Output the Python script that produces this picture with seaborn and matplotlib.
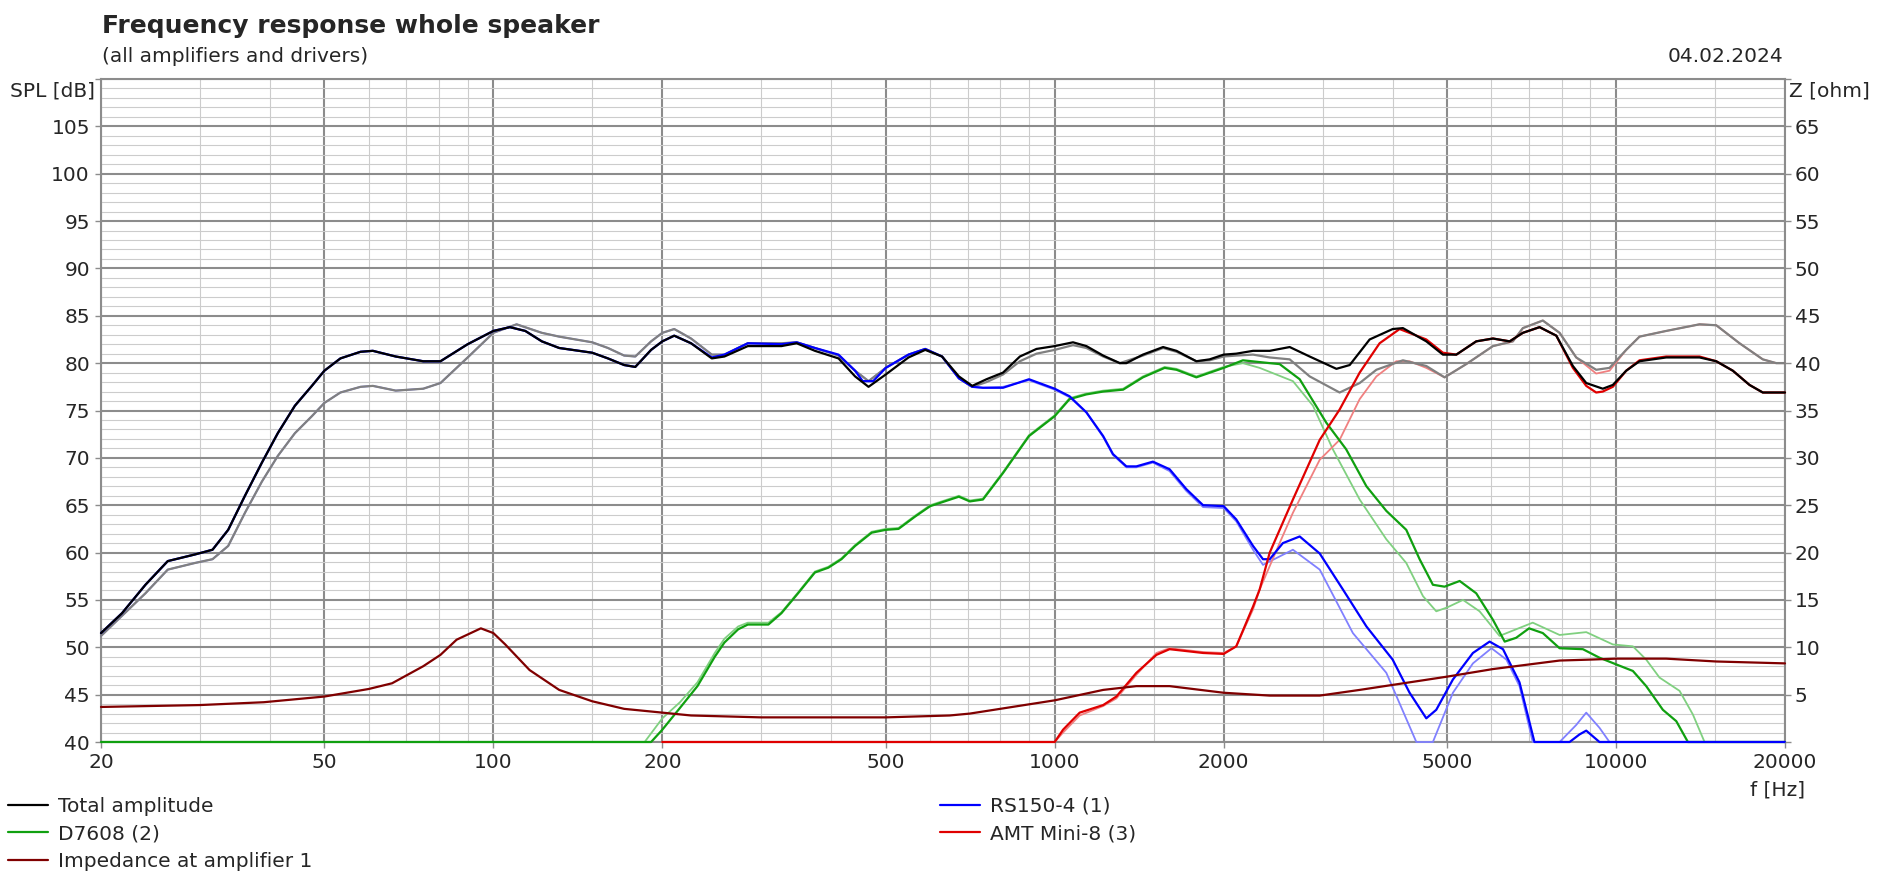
import pandas as pd
import seaborn as sns
import matplotlib.pyplot as plt
from matplotlib.lines import Line2D
from matplotlib.ticker import FixedLocator, NullFormatter

# total amplitude (black) and its reference curve (grey)
total_f = [20, 21.8, 24, 26.3, 29.4, 31.6, 33.7, 36.1, 38.7, 41.3, 44.3, 47.5, 50, 53.4, 58, 61, 67, 75, 80.5,
           90, 100, 107, 114, 122, 131, 150, 160, 171, 179, 191, 200, 210, 225, 245, 258, 284, 326, 347, 374,
           412, 441, 466, 500, 549, 588, 630, 675, 713, 756, 809, 867, 928, 1000, 1078, 1139, 1220, 1306, 1342,
           1436, 1560, 1648, 1788, 1888, 2000, 2106, 2256, 2416, 2622, 2846, 3176, 3354, 3640, 4000, 4172,
           4592, 4916, 5194, 5636, 6036, 6464, 6824, 7308, 7828, 8378, 8850, 9472, 9870, 10426, 11012, 12286,
           14086, 15086, 16148, 17290, 18258, 20000]
total_db = [51.5, 53.6, 56.6, 59.1, 59.8, 60.3, 62.4, 66.0, 69.5, 72.6, 75.5, 77.6, 79.2, 80.5, 81.2, 81.3, 80.7,
            80.2, 80.2, 82.0, 83.4, 83.8, 83.4, 82.3, 81.6, 81.1, 80.5, 79.8, 79.6, 81.4, 82.3, 82.9, 82.1, 80.5,
            80.7, 81.8, 81.8, 82.1, 81.3, 80.5, 78.6, 77.5, 78.8, 80.6, 81.4, 80.7, 78.6, 77.6, 78.3, 79.0, 80.7,
            81.5, 81.8, 82.2, 81.8, 80.8, 80.0, 80.0, 80.9, 81.7, 81.3, 80.2, 80.4, 80.9, 81.0, 81.3, 81.3, 81.7,
            80.7, 79.4, 79.8, 82.5, 83.6, 83.7, 82.3, 80.9, 80.9, 82.3, 82.6, 82.3, 83.2, 83.8, 82.9, 79.7, 77.9,
            77.3, 77.7, 79.2, 80.2, 80.6, 80.6, 80.2, 79.2, 77.7, 76.9, 76.9]

ref_f = [20, 24, 26.3, 29.4, 31.6, 33.7, 36.1, 38.7, 41.3, 44.3, 47.5, 50, 53.4, 58, 61, 67, 75, 80.5, 90, 100,
         110, 122, 131, 150, 160, 171, 179, 191, 200, 210, 216, 225, 245, 258, 284, 326, 347, 374, 412, 441,
         466, 500, 549, 588, 630, 675, 713, 756, 809, 867, 928, 1000, 1078, 1139, 1220, 1306, 1436, 1560, 1648,
         1788, 1888, 2000, 2106, 2256, 2416, 2622, 2846, 3218, 3494, 3742, 4172, 4592, 4950, 5410, 6036, 6550,
         6824, 7406, 7934, 8494, 9218, 9736, 10426, 11012, 12286, 14086, 15086, 16596, 18258, 19294, 20000]
ref_db = [51.2, 55.7, 58.2, 58.9, 59.3, 60.7, 64.2, 67.5, 70.2, 72.6, 74.4, 75.8, 76.9, 77.5, 77.6, 77.1, 77.3,
          77.9, 80.6, 83.2, 84.1, 83.2, 82.8, 82.2, 81.6, 80.8, 80.7, 82.3, 83.2, 83.6, 83.2, 82.6, 80.9, 80.9,
          82.1, 82.1, 82.2, 81.6, 80.8, 79.2, 78.1, 79.5, 80.9, 81.5, 80.7, 78.4, 77.5, 78.0, 78.8, 80.2, 81.0,
          81.4, 81.9, 81.6, 80.7, 80.0, 80.8, 81.6, 81.2, 80.2, 80.3, 80.7, 80.8, 80.9, 80.6, 80.4, 78.6, 76.9,
          77.9, 79.3, 80.3, 79.7, 78.5, 79.9, 81.8, 82.3, 83.7, 84.5, 83.2, 80.6, 79.3, 79.5, 81.4, 82.8, 83.4,
          84.1, 84.0, 82.1, 80.4, 80.0, 80.0]

# RS150-4 (1)
rs_f = [20, 21.8, 24, 26.3, 29.4, 31.6, 33.7, 36.1, 38.7, 41.3, 44.3, 47.5, 50, 53.4, 58, 61, 67, 75, 80.5, 90,
        100, 107, 114, 122, 131, 150, 160, 171, 179, 191, 200, 210, 225, 245, 258, 284, 326, 347, 374, 412, 441,
        455, 475, 500, 549, 588, 630, 675, 713, 745, 809, 900, 1000, 1063, 1139, 1220, 1270, 1342, 1398, 1496,
        1602, 1716, 1838, 2000, 2106, 2256, 2350, 2416, 2550, 2732, 2966, 3262, 3592, 4000, 4288, 4592, 4784,
        5122, 5560, 5954, 6290, 6730, 7156, 8266, 8610, 8850, 9344, 20000]
rs_db = [51.5, 53.6, 56.6, 59.1, 59.8, 60.3, 62.4, 66.0, 69.5, 72.6, 75.5, 77.6, 79.2, 80.5, 81.2, 81.3, 80.7,
         80.2, 80.2, 82.0, 83.4, 83.8, 83.4, 82.3, 81.6, 81.1, 80.5, 79.8, 79.6, 81.4, 82.3, 82.9, 82.1, 80.6,
         80.9, 82.1, 82.0, 82.2, 81.6, 80.9, 79.2, 78.1, 78.1, 79.5, 80.9, 81.5, 80.7, 78.4, 77.5, 77.4, 77.4,
         78.3, 77.3, 76.5, 74.8, 72.3, 70.4, 69.1, 69.1, 69.6, 68.8, 66.7, 65.0, 64.9, 63.5, 60.7, 59.3, 59.3,
         61.0, 61.7, 59.9, 56.1, 52.2, 48.7, 45.2, 42.5, 43.4, 46.6, 49.4, 50.6, 49.8, 46.3, 40.0, 40.0, 40.8,
         41.2, 40.0, 40.0]

rs_ref_f = [20, 24, 26.3, 29.4, 31.6, 33.7, 36.1, 38.7, 41.3, 44.3, 47.5, 50, 53.4, 58, 61, 67, 75, 80.5, 90,
            100, 110, 122, 131, 150, 160, 171, 179, 191, 200, 210, 225, 245, 258, 284, 326, 347, 374, 412, 441,
            466, 500, 549, 588, 630, 675, 713, 745, 809, 900, 1000, 1063, 1139, 1220, 1270, 1342, 1398, 1496,
            1602, 1716, 1838, 2000, 2106, 2256, 2350, 2657, 2966, 3398, 3898, 4408, 4718, 5122, 5560, 6000,
            6378, 6730, 7106, 7934, 8494, 8850, 9344, 9736, 20000]
rs_ref_db = [51.2, 55.7, 58.2, 58.9, 59.3, 60.7, 64.2, 67.5, 70.2, 72.6, 74.4, 75.8, 76.9, 77.5, 77.6, 77.1,
             77.3, 77.9, 80.6, 83.2, 84.1, 83.2, 82.8, 82.2, 81.6, 80.8, 80.7, 82.3, 83.2, 83.6, 82.6, 80.9, 80.9,
             82.1, 82.1, 82.2, 81.6, 80.8, 79.2, 78.1, 79.5, 80.9, 81.5, 80.7, 78.4, 77.5, 77.4, 77.5, 78.2, 77.2,
             76.4, 74.8, 72.2, 70.3, 69.0, 69.0, 69.5, 68.6, 66.5, 64.8, 64.7, 63.3, 60.3, 58.7, 60.3, 58.2, 51.5,
             47.3, 40.0, 40.0, 45.2, 48.3, 49.9, 48.7, 45.9, 40.0, 40.0, 41.8, 43.1, 41.5, 40.0, 40.0]

# D7608 (2)
d76_f = [20, 191, 200, 215, 231, 248, 258, 273, 284, 309, 326, 349, 374, 395, 417, 441, 472, 500, 527, 564, 600,
         675, 706, 745, 809, 900, 1000, 1063, 1139, 1220, 1324, 1436, 1570, 1648, 1788, 2000, 2164, 2416, 2516,
         2732, 3048, 3306, 3592, 3898, 4230, 4468, 4718, 4950, 5266, 5636, 6036, 6334, 6638, 7000, 7406, 7934,
         8728, 9344, 10000, 10716, 11318, 12118, 12804, 13430, 20000]
d76_db = [40.0, 40.0, 41.3, 43.6, 45.9, 49.0, 50.5, 51.9, 52.4, 52.4, 53.6, 55.7, 57.9, 58.4, 59.3, 60.7, 62.1,
          62.4, 62.5, 63.8, 64.9, 65.9, 65.4, 65.6, 68.4, 72.3, 74.4, 76.2, 76.7, 77.0, 77.2, 78.5, 79.5, 79.3,
          78.5, 79.5, 80.3, 80.0, 79.9, 78.3, 73.7, 70.9, 67.0, 64.4, 62.4, 59.3, 56.6, 56.4, 57.0, 55.7, 52.9,
          50.6, 51.0, 52.0, 51.5, 49.9, 49.8, 48.9, 48.2, 47.5, 45.9, 43.4, 42.2, 40.0, 40.0]

d76_ref_f = [20, 186, 200, 215, 231, 248, 258, 273, 284, 309, 326, 349, 374, 395, 417, 441, 472, 500, 527, 564,
             600, 675, 706, 745, 809, 900, 1000, 1063, 1139, 1220, 1324, 1436, 1570, 1648, 1788, 2000, 2164, 2318,
             2657, 2885, 3130, 3494, 3898, 4230, 4530, 4784, 5000, 5338, 5714, 6201, 7106, 7934, 8850, 9870,
             10716, 11318, 11954, 12978, 13708, 14378, 20000]
d76_ref_db = [40.0, 40.0, 42.5, 44.2, 46.3, 49.4, 50.9, 52.2, 52.6, 52.6, 53.7, 55.8, 58.0, 58.5, 59.4, 60.8,
              62.2, 62.5, 62.6, 63.9, 65.0, 66.0, 65.5, 65.7, 68.5, 72.4, 74.5, 76.3, 76.8, 77.1, 77.3, 78.6, 79.6,
              79.4, 78.6, 79.6, 80.0, 79.5, 78.1, 75.5, 70.9, 65.6, 61.4, 58.9, 55.4, 53.8, 54.2, 55.0, 53.8, 51.2,
              52.6, 51.3, 51.6, 50.3, 50.1, 48.7, 46.8, 45.4, 42.9, 40.0, 40.0]

# AMT Mini-8 (3)
amt_f = [200, 1000, 1035, 1108, 1220, 1288, 1398, 1518, 1602, 1838, 2000, 2106, 2256, 2318, 2416, 2657, 2966,
         3218, 3494, 3792, 4116, 4592, 4916, 5194, 5636, 6036, 6464, 6824, 7308, 7828, 8378, 8850, 9218, 9472,
         9870, 10426, 11012, 12286, 14086, 15086, 16148, 17290, 18258, 20000]
amt_db = [40.0, 40.0, 41.3, 43.1, 43.9, 44.8, 47.3, 49.2, 49.8, 49.4, 49.3, 50.1, 54.3, 56.1, 60.0, 65.6, 71.9,
          75.1, 79.0, 82.1, 83.6, 82.5, 81.1, 80.9, 82.3, 82.6, 82.3, 83.2, 83.8, 82.9, 79.5, 77.6, 76.9, 77.0,
          77.5, 79.2, 80.3, 80.7, 80.7, 80.2, 79.2, 77.7, 76.9, 76.9]

amt_ref_f = [200, 1000, 1035, 1108, 1220, 1288, 1398, 1518, 1602, 1838, 2000, 2106, 2256, 2318, 2516, 2657, 2966,
             3218, 3494, 3742, 4060, 4288, 4592, 4950, 5410, 6036, 6550, 6824, 7406, 7934, 8494, 9218, 9736,
             10426, 11012, 12286, 14086, 15086, 16596, 18258, 19294, 20000]
amt_ref_db = [40.0, 40.0, 41.0, 42.8, 43.8, 44.6, 47.1, 49.4, 49.9, 49.5, 49.4, 50.1, 54.0, 56.1, 61.0, 64.2,
              69.8, 71.9, 76.2, 78.6, 80.2, 80.2, 79.5, 78.5, 79.9, 81.8, 82.3, 83.7, 84.5, 83.2, 80.6, 78.9, 79.2,
              81.4, 82.8, 83.4, 84.1, 84.0, 82.1, 80.4, 80.0, 80.0]

# impedance at amplifier 1 (ohm, right axis)
imp_f = [20, 30, 39, 50, 60, 66, 75, 80.5, 86, 95, 100, 105, 116, 131, 150, 171, 200, 225, 300, 500, 650, 706,
         1000, 1220, 1398, 1602, 2000, 2416, 2966, 3494, 4288, 5000, 6036, 7934, 9000, 10000, 12286, 15086, 20000]
imp_ohm = [3.7, 3.9, 4.2, 4.8, 5.6, 6.2, 8.0, 9.2, 10.8, 12.0, 11.5, 10.3, 7.6, 5.5, 4.3, 3.5, 3.1, 2.8, 2.6, 2.6,
           2.8, 3.0, 4.4, 5.5, 5.9, 5.9, 5.2, 4.9, 4.9, 5.5, 6.3, 6.9, 7.7, 8.6, 8.7, 8.8, 8.8, 8.5, 8.3]

x_major = [20, 50, 100, 200, 500, 1000, 2000, 5000, 10000, 20000]
x_minor = [30, 40, 60, 70, 80, 90, 150, 300, 400, 600, 700, 800, 900, 1500, 3000, 4000,
           6000, 7000, 8000, 9000, 15000]

sns.set_style("white")
plt.rcParams['font.family'] = ['DejaVu Sans']

fig = plt.figure(figsize=(18.89, 8.82), dpi=100)
ax = fig.add_axes([101 / 1889, 1 - 742 / 882, 1684 / 1889, 663 / 882])

GRID_DARK = '#8c8c8c'
GRID_LIGHT = '#cccccc'
FS = 14.5


def draw(axis, f, v, color, lw):
    df = pd.DataFrame({'f': f, 'v': v})
    sns.lineplot(data=df, x='f', y='v', ax=axis, color=color, linewidth=lw,
                 estimator=None, sort=False, legend=False)
    # curves sitting on the 40 dB floor must stay visible over the frame
    line = axis.lines[-1]
    line.set_clip_on(False)
    line.set_zorder(3)


# pale reference curves first, then the current ones
draw(ax, rs_ref_f, rs_ref_db, '#8080ff', 1.3)
draw(ax, d76_ref_f, d76_ref_db, '#80d080', 1.3)
draw(ax, amt_ref_f, amt_ref_db, '#f08080', 1.3)
draw(ax, ref_f, ref_db, '#808080', 1.6)
draw(ax, d76_f, d76_db, '#10a010', 1.6)
draw(ax, rs_f, rs_db, '#0000ff', 1.6)
draw(ax, amt_f, amt_db, '#e00000', 1.6)
draw(ax, total_f, total_db, '#000000', 1.6)

ax.set_xscale('log')
ax.set_xlim(20, 20000)
ax.set_ylim(40, 110)
ax.xaxis.set_major_locator(FixedLocator(x_major))
ax.xaxis.set_minor_locator(FixedLocator(x_minor))
ax.xaxis.set_minor_formatter(NullFormatter())
ax.set_xticklabels([str(v) for v in x_major])
ax.set_yticks(range(40, 111, 5))
ax.set_yticklabels([str(v) if v < 110 else '' for v in range(40, 111, 5)])
ax.yaxis.set_minor_locator(FixedLocator(range(40, 111, 1)))
ax.grid(which='major', color=GRID_DARK, linewidth=1.5)
ax.grid(which='minor', color=GRID_LIGHT, linewidth=0.8)
ax.set_axisbelow(True)
ax.tick_params(which='major', direction='out', length=4, width=1, color=GRID_DARK,
               labelsize=FS, pad=4, left=True, bottom=True)
ax.tick_params(which='minor', length=0)
ax.set_xlabel('')
ax.set_ylabel('')
for s in ax.spines.values():
    s.set_color(GRID_DARK)
    s.set_linewidth(1.5)

ax2 = ax.twinx()
draw(ax2, imp_f, imp_ohm, '#800000', 1.6)
ax2.set_ylim(0, 70)
ax2.set_yticks(range(0, 71, 5))
ax2.set_yticklabels([str(v) if 0 < v < 70 else '' for v in range(0, 71, 5)])
ax2.tick_params(direction='out', length=4, width=1, color=GRID_DARK, labelsize=FS, pad=3, right=True)
ax2.set_ylabel('')
ax2.grid(False)
for s in ax2.spines.values():
    s.set_visible(False)

fig.text(102 / 1889, 1 - 33 / 882, 'Frequency response whole speaker', fontsize=18,
         fontweight='bold', ha='left', va='baseline')
fig.text(102 / 1889, 1 - 56 / 882, '(all amplifiers and drivers)', fontsize=FS, ha='left', va='center')
fig.text(1783 / 1889, 1 - 56 / 882, '04.02.2024', fontsize=FS, ha='right', va='center')
fig.text(95 / 1889, 1 - 91 / 882, 'SPL [dB]', fontsize=FS, ha='right', va='center')
fig.text(1789 / 1889, 1 - 91 / 882, 'Z [ohm]', fontsize=FS, ha='left', va='center')
fig.text(1778 / 1889, 1 - 790 / 882, 'f [Hz]', fontsize=FS, ha='center', va='center')

h_total = Line2D([], [], color='#000000', lw=1.6)
h_d76 = Line2D([], [], color='#10a010', lw=1.6)
h_imp = Line2D([], [], color='#800000', lw=1.6)
h_rs = Line2D([], [], color='#0000ff', lw=1.6)
h_amt = Line2D([], [], color='#e00000', lw=1.6)
leg_kw = dict(frameon=False, fontsize=FS, handlelength=2.0, handletextpad=0.5, labelspacing=0.42,
              borderaxespad=0, borderpad=0, loc='upper left')
fig.legend([h_total, h_d76, h_imp], ['Total amplitude', 'D7608 (2)', 'Impedance at amplifier 1'],
           bbox_to_anchor=(8 / 1889, 1 - 797 / 882), **leg_kw)
fig.legend([h_rs, h_amt], ['RS150-4 (1)', 'AMT Mini-8 (3)'],
           bbox_to_anchor=(940 / 1889, 1 - 797 / 882), **leg_kw)

fig.savefig('out.png', dpi=100, facecolor='white')
